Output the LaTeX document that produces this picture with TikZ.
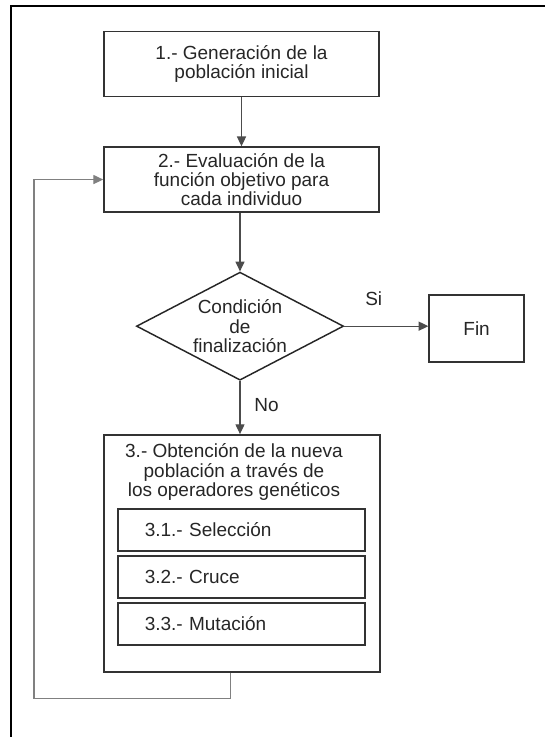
\documentclass[tikz,border=0pt]{standalone}
\usepackage{fontspec}
\setmainfont{Liberation Sans}
\usetikzlibrary{positioning,calc,shapes.geometric,arrows.meta}

\tikzset{
  block/.style={draw=black!80, line width=1.1pt, minimum width=7.28cm, minimum height=1.72cm, align=center, inner sep=0pt},
  decision/.style={draw=black!85, line width=1.1pt, diamond, aspect=1.92, minimum width=5.48cm, minimum height=2.86cm, align=center, inner sep=0pt},
  subblock/.style={draw=black!80, line width=1.1pt, minimum width=6.54cm, minimum height=1.11cm, text width=5.12cm, inner xsep=0.71cm, align=left},
  flow/.style={draw=black!70, line width=0.9pt, -{Triangle[length=2.6mm,width=2.4mm]}},
}

\begin{document}
\begin{tikzpicture}[font=\fontsize{14.3}{14.6}\selectfont, text=black!85]
  \useasboundingbox (0,0) rectangle (14.42,-19.50);
  % frame (top and left side only)
  \draw[line width=1.5pt] (0.30,-19.50) |- (14.42,-0.16);

  \node[block] (box1) at (6.39,-1.69) {1.- Generación de la\\población inicial};
  \node[block] (box2) at (6.39,-4.75) {2.- Evaluación de la\\función objetivo para\\cada individuo};
  \node[decision] (cond) at (6.35,-8.63) {Condición\\de\\finalización};
  \node[block, minimum width=2.51cm, minimum height=1.77cm] (fin) at (12.61,-8.69) {Fin};

  % box 3 with the genetic operators inside
  \node[block, minimum width=7.30cm, minimum height=6.27cm] (box3) at (6.40,-14.64) {};
  \node[align=center, inner sep=0pt] (t3) at (6.19,-12.49) {3.- Obtención de la nueva\\población a través de\\los operadores genéticos};
  \node[subblock] (sel) at (6.39,-14.02) {3.1.- Selección};
  \node[subblock] (cru) at (6.39,-15.27) {3.2.- Cruce};
  \node[subblock] (mut) at (6.39,-16.51) {3.3.- Mutación};

  \draw[flow] (box1) -- (box2);
  \draw[flow] (box2.south -| cond.north) -- (cond.north);
  \draw[flow] (cond.east) -- (cond.east -| fin.west) node[pos=0.35, above=0.4cm]{Si};
  \draw[flow] (cond.south) -- (cond.south |- box3.north) node[pos=0.45, right=0.25cm]{No};

  % back to the evaluation
  \coordinate (loop) at (0.90,-18.49);
  \draw[flow, draw=black!50] ([xshift=-0.3cm]box3.south) |- (loop) |- (box2.west);
\end{tikzpicture}
\end{document}
